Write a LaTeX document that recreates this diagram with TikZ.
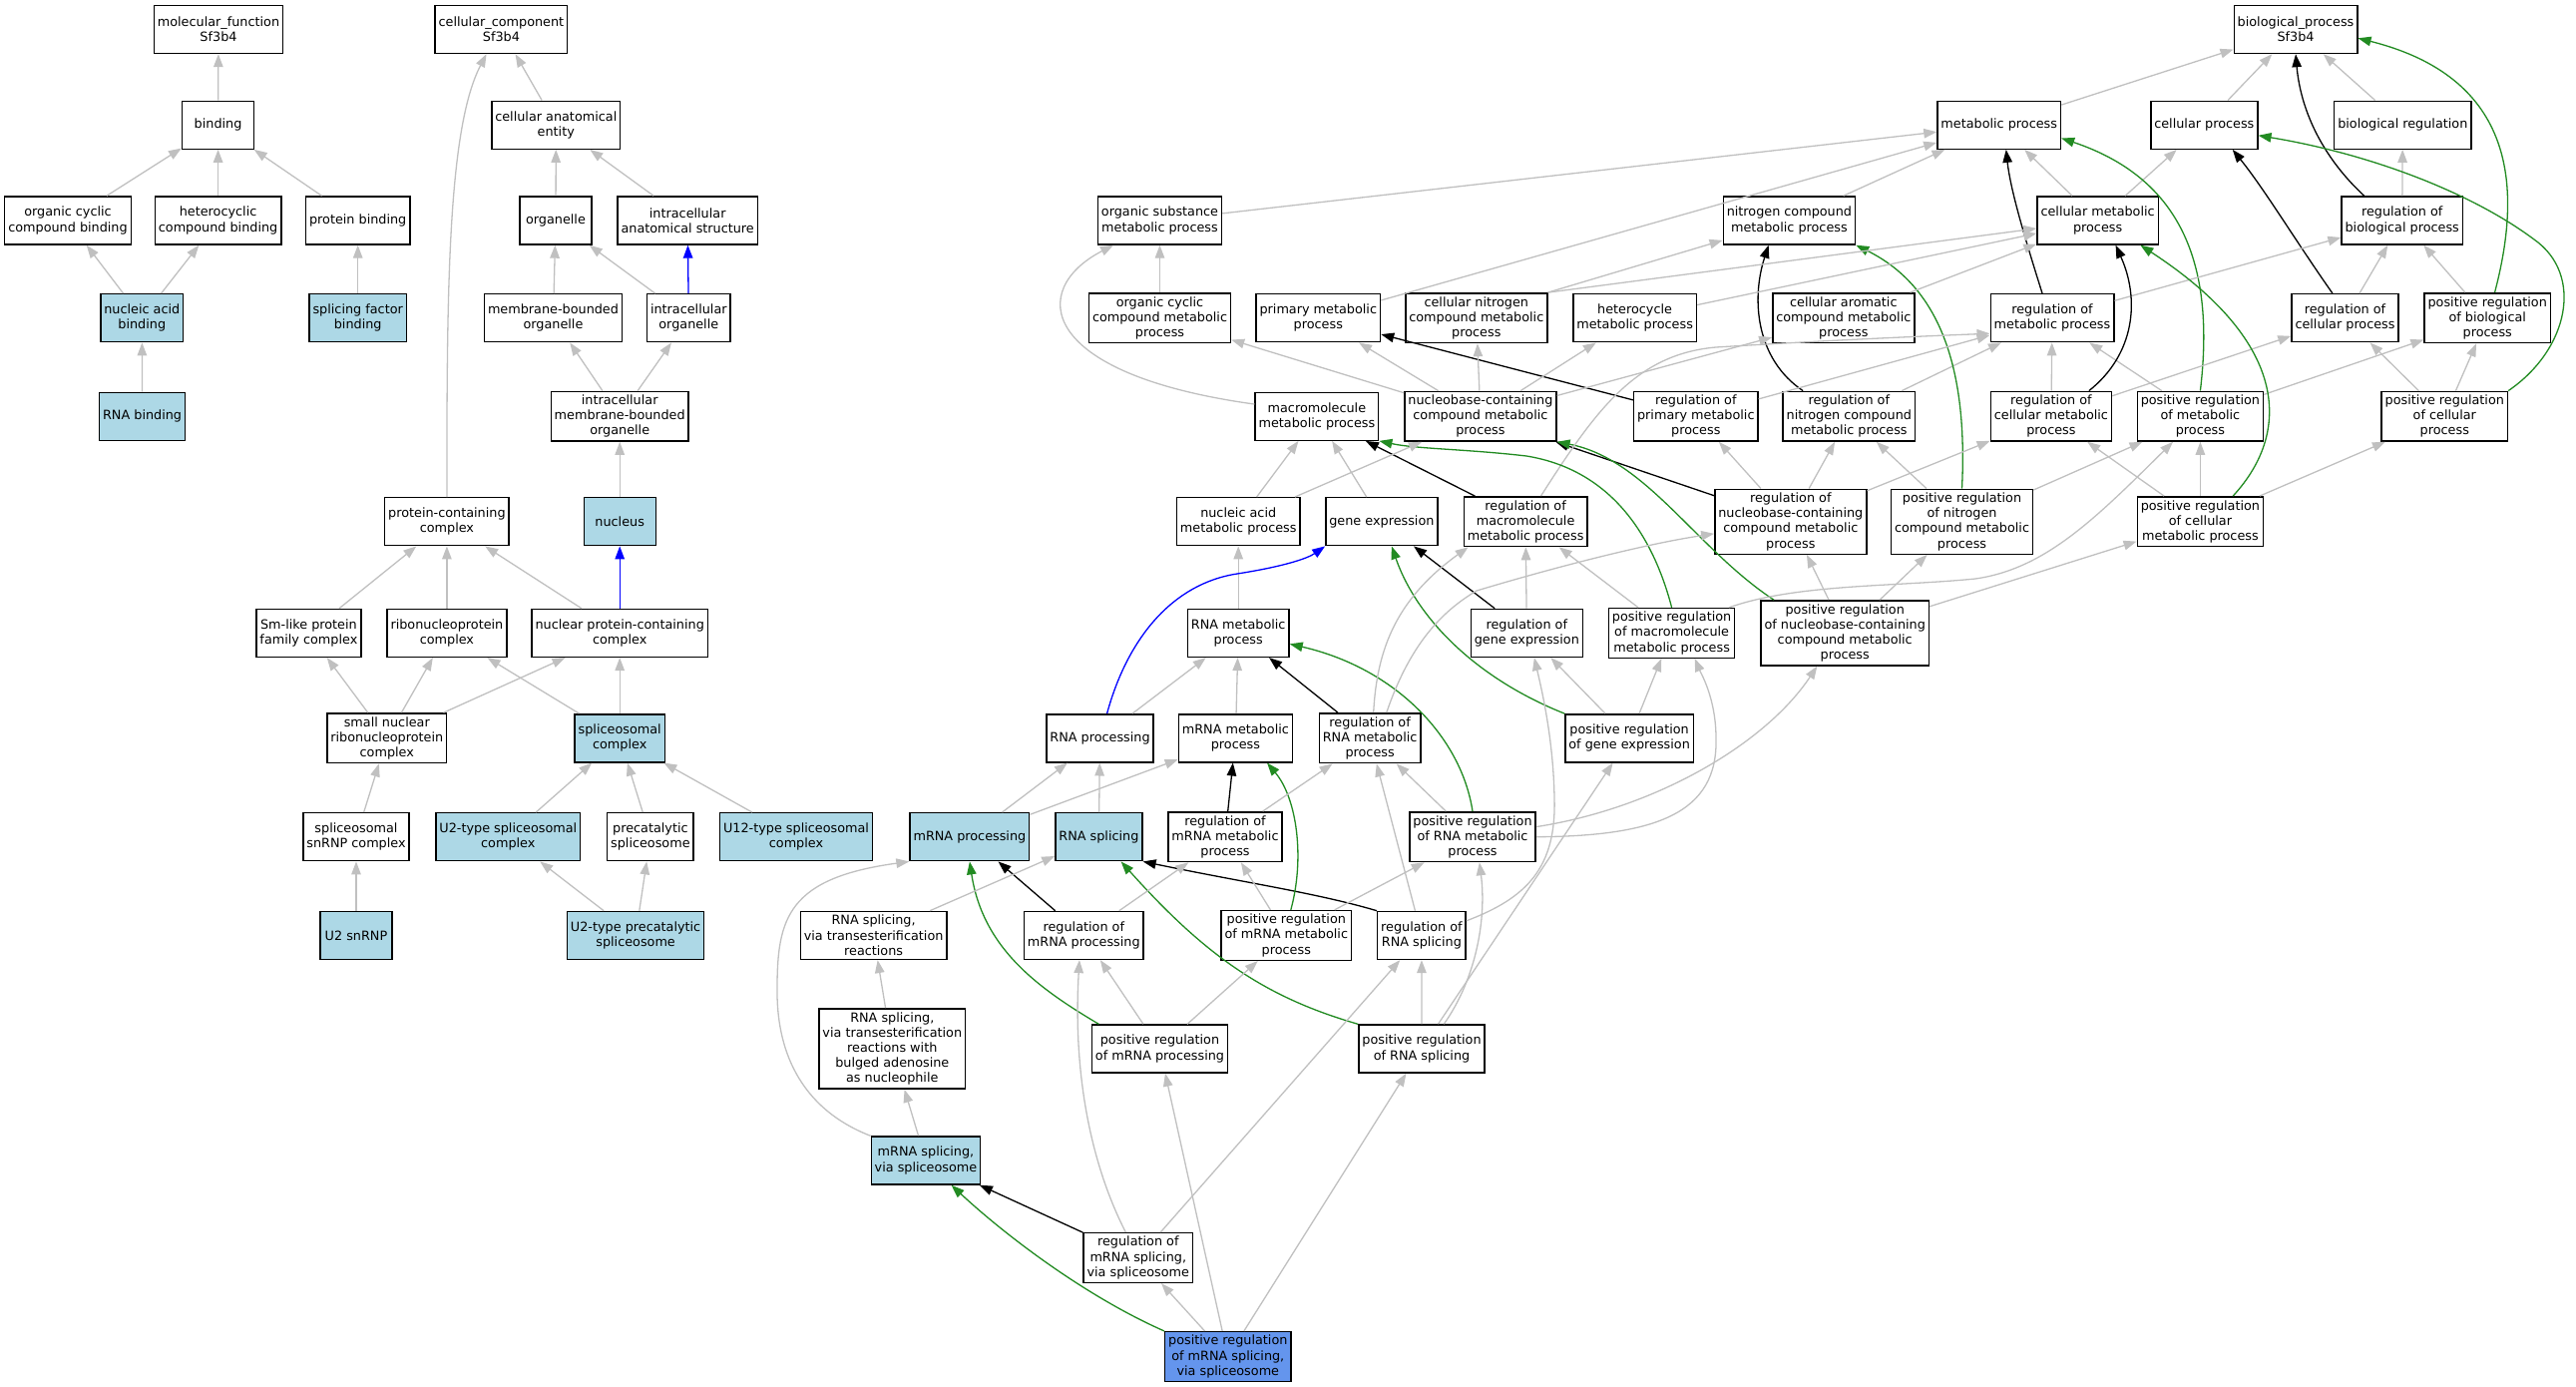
\documentclass[tikz,border=0pt]{standalone}
\usepackage{fontspec}
\setmainfont{DejaVu Sans}
\usepackage{tikz}
\usetikzlibrary{arrows.meta}
\definecolor{colorterm}  {RGB}{255,255,255}
\definecolor{colorhit}   {RGB}{173,216,230}
\definecolor{colorquery} {RGB}{100,149,237}
\definecolor{colorisa}   {RGB}{192,192,192}
\definecolor{colorreg}   {RGB}{  0,  0,  0}
\definecolor{colorpos}   {RGB}{ 34,139, 34}
\definecolor{colorpart}  {RGB}{  0,  0,255}

\begin{document}
\begin{tikzpicture}[
    x=1pt, y=-1pt,
    >={Triangle[length=13pt,width=9.5pt]},
    font={\fontsize{12.8pt}{15.2pt}\selectfont},
    term/.style={draw=black,line width=1.4pt,fill=colorterm,rectangle,align=center,
                 minimum width=72pt,minimum height=48pt,inner xsep=3.5pt,inner ysep=3.5pt},
    hit/.style={term,fill=colorhit},
    query/.style={term,fill=colorquery},
    isa/.style={->,draw=colorisa,line width=1.3pt},
    reg/.style={->,draw=colorreg,line width=1.3pt},
    posreg/.style={->,draw=colorpos,line width=1.3pt},
    partof/.style={->,draw=colorpart,line width=1.3pt},
]
\useasboundingbox (0,0) rectangle (2582,1389);

    % molecular function
    \node[term] (mf)    at (219,29.5)    {molecular\_function\\Sf3b4};
    \node[term] (bind)  at (218.6,125.2) {binding};
    \node[term] (occb)  at (68,221)      {organic cyclic\\compound binding};
    \node[term] (hcb)   at (218.6,221)   {heterocyclic\\compound binding};
    \node[term] (pb)    at (358.7,221)   {protein binding};
    \node[hit]  (nab)   at (142.3,318.7) {nucleic acid\\binding};
    \node[hit]  (sfb)   at (358.7,318.7) {splicing factor\\binding};
    \node[hit]  (rnab)  at (142.6,417.2) {RNA binding};

    % cellular component
    \node[term] (cc)      at (502.4,29.5)  {cellular\_component\\Sf3b4};
    \node[term] (cae)     at (557.3,125.2) {cellular anatomical\\entity};
    \node[term] (org)     at (557,221)     {organelle};
    \node[term] (ias)     at (689.2,221)   {intracellular\\anatomical structure};
    \node[term] (mbo)     at (554.5,318.7) {membrane-bounded\\organelle};
    \node[term] (io)      at (690.3,318.7) {intracellular\\organelle};
    \node[term] (imbo)    at (621.2,417.2) {intracellular\\membrane-bounded\\organelle};
    \node[term] (pcc)     at (447.9,522.7) {protein-containing\\complex};
    \node[hit]  (nuc)     at (621.2,522.7) {nucleus};
    \node[term] (smlike)  at (309.4,634.4) {Sm-like protein\\family complex};
    \node[term] (rnp)     at (447.9,634.4) {ribonucleoprotein\\complex};
    \node[term] (npcc)    at (621.2,634.4) {nuclear protein-containing\\complex};
    \node[term] (snrnp)   at (387.8,739.8) {small nuclear\\ribonucleoprotein\\complex};
    \node[hit]  (spl)     at (621.2,739.8) {spliceosomal\\complex};
    \node[term] (ssnrnp)  at (357,838.7)   {spliceosomal\\snRNP complex};
    \node[hit]  (u2sc)    at (509.3,838.7) {U2-type spliceosomal\\complex};
    \node[term] (precat)  at (651.9,838.7) {precatalytic\\spliceosome};
    \node[hit]  (u12sc)   at (798,838.7)   {U12-type spliceosomal\\complex};
    \node[hit]  (u2snrnp) at (357,937.4)   {U2 snRNP};
    \node[hit]  (u2pre)   at (637.1,937.4) {U2-type precatalytic\\spliceosome};

    % biological process
    \node[term] (bp)     at (2301,29.5)     {biological\_process\\Sf3b4};
    \node[term] (mp)     at (2003.7,125.2)  {metabolic process};
    \node[term] (cp)     at (2209.3,125.2)  {cellular process};
    \node[term] (br)     at (2408.3,125.2)  {biological regulation};
    \node[term] (osmp)   at (1162.5,221)    {organic substance\\metabolic process};
    \node[term] (ncmp)   at (1793.4,221)    {nitrogen compound\\metabolic process};
    \node[term] (cmp)    at (2102.6,221)    {cellular metabolic\\process};
    \node[term] (rbp)    at (2407.7,221)    {regulation of\\biological process};
    \node[term] (occmp)  at (1162.5,318.7)  {organic cyclic\\compound metabolic\\process};
    \node[term] (pmp)    at (1321.3,318.7)  {primary metabolic\\process};
    \node[term] (cncmp)  at (1479.8,318.7)  {cellular nitrogen\\compound metabolic\\process};
    \node[term] (hmp)    at (1638.6,318.7)  {heterocycle\\metabolic process};
    \node[term] (camp)   at (1847.8,318.7)  {cellular aromatic\\compound metabolic\\process};
    \node[term] (rmp)    at (2057,318.7)    {regulation of\\metabolic process};
    \node[term] (rcp)    at (2350.5,318.7)  {regulation of\\cellular process};
    \node[term] (prbp)   at (2493.2,318.7)  {positive regulation\\of biological\\process};
    \node[term] (mmp)    at (1319.9,417.2)  {macromolecule\\metabolic process};
    \node[term] (nbcmp)  at (1483.9,417.2)  {nucleobase-containing\\compound metabolic\\process};
    \node[term] (rpmp)   at (1699.8,417.2)  {regulation of\\primary metabolic\\process};
    \node[term] (rncmp)  at (1853.3,417.2)  {regulation of\\nitrogen compound\\metabolic process};
    \node[term] (rcmp)   at (2055.9,417.2)  {regulation of\\cellular metabolic\\process};
    \node[term] (prmp)   at (2205.4,417.2)  {positive regulation\\of metabolic\\process};
    \node[term] (prcp)   at (2450.3,417.2)  {positive regulation\\of cellular\\process};
    \node[term] (namp)   at (1241.2,522.7)  {nucleic acid\\metabolic process};
    \node[term] (ge)     at (1384.9,522.7)  {gene expression};
    \node[term] (rmmp)   at (1529.1,522.7)  {regulation of\\macromolecule\\metabolic process};
    \node[term] (rnbc)   at (1794.8,522.7)  {regulation of\\nucleobase-containing\\compound metabolic\\process};
    \node[term] (prnc)   at (1966.5,522.7)  {positive regulation\\of nitrogen\\compound metabolic\\process};
    \node[term] (prcmp)  at (2205.4,522.7)  {positive regulation\\of cellular\\metabolic process};
    \node[term] (rnamp)  at (1241.2,634.4)  {RNA metabolic\\process};
    \node[term] (rge)    at (1530.3,634.4)  {regulation of\\gene expression};
    \node[term] (prmmp)  at (1675.6,634.4)  {positive regulation\\of macromolecule\\metabolic process};
    \node[term] (prnbc)  at (1849.2,634.4)  {positive regulation\\of nucleobase-containing\\compound metabolic\\process};
    \node[term] (rnap)   at (1102.5,739.8)  {RNA processing};
    \node[term] (mrmp)   at (1238.4,739.8)  {mRNA metabolic\\process};
    \node[term] (rrmp)   at (1373.1,739.8)  {regulation of\\RNA metabolic\\process};
    \node[term] (prge)   at (1633.1,739.8)  {positive regulation\\of gene expression};
    \node[hit]  (mrp)    at (971.9,838.7)   {mRNA processing};
    \node[hit]  (rs)     at (1101.4,838.7)  {RNA splicing};
    \node[term] (rmrmp)  at (1228,838.7)    {regulation of\\mRNA metabolic\\process};
    \node[term] (prrmp)  at (1476,838.7)    {positive regulation\\of RNA metabolic\\process};
    \node[term] (rsvt)   at (875.6,937.4)   {RNA splicing,\\via transesterification\\reactions};
    \node[term] (rmrp)   at (1086.3,937.4)  {regulation of\\mRNA processing};
    \node[term] (prmrmp) at (1289.3,937.4)  {positive regulation\\of mRNA metabolic\\process};
    \node[term] (rrs)    at (1424.9,937.4)  {regulation of\\RNA splicing};
    \node[term] (rsvtb)  at (894.3,1051)    {RNA splicing,\\via transesterification\\reactions with\\bulged adenosine\\as nucleophile};
    \node[term] (prmrp)  at (1162.5,1051)   {positive regulation\\of mRNA processing};
    \node[term] (prrs)   at (1425,1051)     {positive regulation\\of RNA splicing};
    \node[hit]  (msvs)   at (928,1163)      {mRNA splicing,\\via spliceosome};
    \node[term] (rmsvs)  at (1140.8,1260.5) {regulation of\\mRNA splicing,\\via spliceosome};
    \node[query] (prmsvs) at (1230.8,1359.5) {positive regulation\\of mRNA splicing,\\via spliceosome};

    % molecular function edges
    \draw[isa] (bind) -- (mf);
    \draw[isa] (occb) -- (bind);
    \draw[isa] (hcb) -- (bind);
    \draw[isa] (pb) -- (bind);
    \draw[isa] (nab) -- (occb);
    \draw[isa] (nab) -- (hcb);
    \draw[isa] (sfb) -- (pb);
    \draw[isa] (rnab) -- (nab);

    % cellular component edges
    \draw[isa] (cae) -- (cc);
    \draw[isa] (pcc.north) .. controls (448,300) and (448,130) .. (cc.239);
    \draw[isa] (org) -- (cae);
    \draw[isa] (ias) -- (cae);
    \draw[isa] (mbo) -- (org);
    \draw[isa] (io) -- (org);
    \draw[partof] (io) -- (ias);
    \draw[isa] (imbo) -- (mbo);
    \draw[isa] (imbo) -- (io);
    \draw[isa] (nuc) -- (imbo);
    \draw[isa] (smlike) -- (pcc);
    \draw[isa] (rnp) -- (pcc);
    \draw[isa] (npcc) -- (pcc);
    \draw[partof] (npcc) -- (nuc);
    \draw[isa] (snrnp) -- (smlike);
    \draw[isa] (snrnp) -- (rnp);
    \draw[isa] (snrnp) -- (npcc);
    \draw[isa] (spl) -- (rnp);
    \draw[isa] (spl) -- (npcc);
    \draw[isa] (ssnrnp) -- (snrnp);
    \draw[isa] (u2snrnp) -- (ssnrnp);
    \draw[isa] (u2sc) -- (spl);
    \draw[isa] (precat) -- (spl);
    \draw[isa] (u12sc) -- (spl);
    \draw[isa] (u2pre) -- (u2sc);
    \draw[isa] (u2pre) -- (precat);

    % biological process edges
    \draw[isa] (mp) -- (bp);
    \draw[isa] (cp) -- (bp);
    \draw[isa] (br) -- (bp);
    \draw[reg] (rbp.147) .. controls (2320,150) and (2305,100) .. (bp.south);
    \draw[posreg] (prbp.74) .. controls (2525,200) and (2530,80) .. (bp.-8);
    \draw[isa] (rbp) -- (br);
    \draw[isa] (cmp) -- (mp);
    \draw[isa] (cmp) -- (cp);
    \draw[isa] (ncmp) -- (mp);
    \draw[isa] (osmp) -- (mp);
    \draw[isa] (pmp) -- (mp);
    \draw[reg] (rmp.112) .. controls (2030,240) and (2015,190) .. (mp.-74);
    \draw[posreg] (prmp.north) .. controls (2220,270) and (2190,180) .. (mp.-12);
    \draw[reg] (rcp.117) .. controls (2300,240) and (2270,190) .. (cp.-41);
    \draw[posreg] (prcp.north east) .. controls (2575,350) and (2590,275) .. (2540,240)
        .. controls (2480,195) and (2380,155) .. (cp.-11);
    \draw[isa] (rcp) -- (rbp);
    \draw[isa] (prbp) -- (rbp);
    \draw[isa] (rmp) -- (rbp);
    \draw[isa] (prcp) -- (rcp);
    \draw[isa] (prcp) -- (prbp);
    \draw[isa] (prmp) -- (rmp);
    \draw[isa] (prmp) -- (prbp);
    \draw[isa] (rcmp) -- (rmp);
    \draw[reg] (rcmp.34) .. controls (2140,355) and (2145,300) .. (cmp.-54);
    \draw[isa] (rcmp) -- (rcp);
    \draw[isa] (prcmp) -- (prmp);
    \draw[isa] (prcmp) -- (rcmp);
    \draw[isa] (prcmp) -- (prcp);
    \draw[posreg] (prcmp.38) .. controls (2300,430) and (2290,340) .. (cmp.-30);
    \draw[reg] (rncmp.151) .. controls (1760,360) and (1755,300) .. (ncmp.230);
    \draw[isa] (rncmp) -- (rmp);
    \draw[posreg] (prnc.north) .. controls (1972,380) and (1950,290) .. (ncmp.south east);
    \draw[isa] (prnc) -- (rncmp);
    \draw[isa] (prnc) -- (prmp);
    \draw[isa] (rnbc) -- (rncmp);
    \draw[isa] (rnbc) -- (rpmp);
    \draw[isa] (rnbc) -- (rcmp);
    \draw[reg] (rnbc) -- (nbcmp);
    \draw[isa] (prnbc) -- (rnbc);
    \draw[isa] (prnbc) -- (prnc);
    \draw[isa] (prnbc) -- (prcmp);
    \draw[posreg] (prnbc.155) .. controls (1700,550) and (1650,460) .. (nbcmp.south east);
    \draw[reg] (rpmp) -- (pmp);
    \draw[isa] (rpmp) -- (rmp);
    \draw[isa] (rmmp.59) .. controls (1600,410) and (1640,355) .. (1720,348)
        .. controls (1850,340) and (1950,336) .. (rmp.194);
    \draw[reg] (rmmp) -- (mmp);
    \draw[posreg] (prmmp.north) .. controls (1655,530) and (1610,470) .. (1530,457)
        .. controls (1470,450) and (1420,450) .. (mmp.south east);
    \draw[isa] (prmmp) -- (rmmp);
    \draw[isa] (prmmp.24) .. controls (1800,585) and (1900,588) .. (1980,580)
        .. controls (2050,570) and (2100,520) .. (prmp.223);
    \draw[isa] (rge) -- (rmmp);
    \draw[reg] (rge) -- (ge);
    \draw[posreg] (prge.north west) .. controls (1480,680) and (1420,620) .. (ge.-68);
    \draw[isa] (prge) -- (rge);
    \draw[isa] (prge) -- (prmmp);
    \draw[isa] (ge) -- (mmp);
    \draw[isa] (namp) -- (mmp);
    \draw[isa] (namp) -- (nbcmp);
    \draw[isa] (mmp.169) .. controls (1040,375) and (1030,290) .. (osmp.208);
    \draw[isa] (occmp) -- (osmp);
    \draw[isa] (nbcmp) -- (occmp);
    \draw[isa] (nbcmp) -- (pmp);
    \draw[isa] (nbcmp) -- (cncmp);
    \draw[isa] (nbcmp) -- (hmp);
    \draw[isa] (nbcmp) -- (camp);
    \draw[isa] (cncmp.north east) -- (ncmp);
    \draw[isa] (cncmp.north east) -- (cmp);
    \draw[isa] (hmp) -- (cmp);
    \draw[isa] (camp) -- (cmp);
    \draw[isa] (rnamp) -- (namp);
    \draw[isa] (rnap) -- (rnamp);
    \draw[partof] (rnap.74) .. controls (1130,640) and (1175,585) .. (1240,575)
        .. controls (1285,568) and (1310,560) .. (ge.south west);
    \draw[isa] (mrmp) -- (rnamp);
    \draw[reg] (rrmp) -- (rnamp);
    \draw[posreg] (prrmp.north) .. controls (1465,740) and (1400,670) .. (rnamp.-12);
    \draw[isa] (rrmp.82) .. controls (1380,650) and (1400,600) .. (rmmp.204);
    \draw[isa] (rrmp.57) .. controls (1415,640) and (1450,610) .. (1480,592)
        .. controls (1560,568) and (1650,545) .. (rnbc.189);
    \draw[isa] (rrs) -- (rrmp);
    \draw[isa] (rrs.18) .. controls (1530,900) and (1560,870) .. (1558,800)
        .. controls (1557,740) and (1545,690) .. (rge.287);
    \draw[reg] (rrs.north west) .. controls (1320,895) and (1250,885) .. (rs.south east);
    \draw[isa] (prrmp) -- (rrmp);
    \draw[isa] (prrmp.east) .. controls (1660,838) and (1722,815) .. (1720,740)
        .. controls (1720,700) and (1705,675) .. (prmmp.-48);
    \draw[isa] (prrmp.9) .. controls (1660,810) and (1770,745) .. (prnbc.230);
    \draw[isa] (prrs) -- (prge);
    \draw[isa] (prrs) -- (rrs);
    \draw[isa] (prrs.48) .. controls (1480,980) and (1490,920) .. (prrmp.-75);
    \draw[posreg] (prrs.north west) .. controls (1270,1000) and (1210,960) .. (rs.-48);
    \draw[isa] (prmrmp) -- (rmrmp);
    \draw[isa] (prmrmp) -- (prrmp);
    \draw[posreg] (prmrmp.80) .. controls (1308,860) and (1300,800) .. (mrmp.-38);
    \draw[reg] (rmrmp) -- (mrmp);
    \draw[isa] (rmrmp) -- (rrmp);
    \draw[isa] (rmrp) -- (rmrmp);
    \draw[reg] (rmrp) -- (mrp);
    \draw[isa] (prmrp) -- (rmrp);
    \draw[isa] (prmrp) -- (prmrmp);
    \draw[posreg] (prmrp.158) .. controls (1040,990) and (985,950) .. (mrp.south);
    \draw[isa] (mrp) -- (rnap);
    \draw[isa] (mrp) -- (mrmp);
    \draw[isa] (rs) -- (rnap);
    \draw[isa] (rsvt) -- (rs);
    \draw[isa] (rsvtb) -- (rsvt);
    \draw[isa] (msvs) -- (rsvtb);
    \draw[isa] (msvs.north west) .. controls (800,1110) and (778,1050) .. (779,990)
        .. controls (779,920) and (790,880) .. (mrp.south west);
    \draw[reg] (rmsvs) -- (msvs);
    \draw[isa] (rmsvs.116) .. controls (1095,1170) and (1075,1080) .. (rmrp.-100);
    \draw[isa] (rmsvs) -- (rrs);
    \draw[isa] (prmsvs) -- (rmsvs);
    \draw[posreg] (prmsvs.north west) .. controls (1090,1300) and (1010,1240) .. (msvs.-44);
    \draw[isa] (prmsvs) -- (prmrp);
    \draw[isa] (prmsvs) -- (prrs);

\end{tikzpicture}
\end{document}
